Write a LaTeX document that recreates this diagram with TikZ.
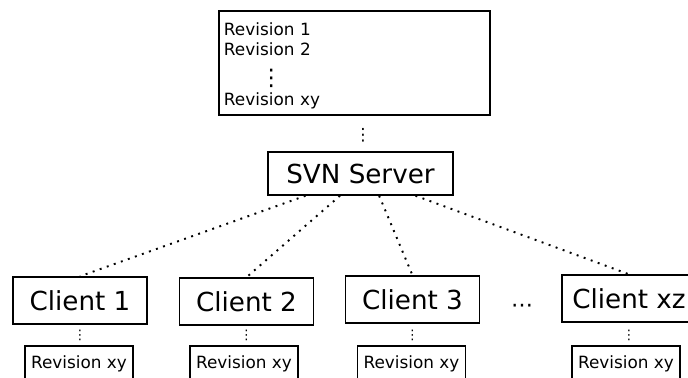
\documentclass[tikz,border=0pt]{standalone}
\usepackage{fontspec}
\setmainfont{DejaVu Sans}
\usetikzlibrary{positioning,calc}

\begin{document}
\begin{tikzpicture}[
    box/.style={draw, line width=0.8pt, minimum width=2.68cm, minimum height=0.94cm, inner sep=0pt, font=\fontsize{14.9}{18}\selectfont},
    rev/.style={draw, line width=0.8pt, minimum width=2.16cm, minimum height=0.72cm, inner sep=0pt, font=\fontsize{9.6}{11.4}\selectfont},
    vdots/.style={inner sep=0pt, font=\fontsize{7.5}{8}\selectfont},
    conn/.style={line width=1.1pt, dash pattern=on 1.1pt off 3.15pt}
]
\useasboundingbox (-7.21,-4.09) rectangle (6.55,3.47);
\clip (-7.21,-4.09) rectangle (6.55,3.47);
\node[draw, line width=0.8pt, text width=5.22cm, inner xsep=0.1cm, minimum height=2.08cm, align=left, font=\fontsize{9.6}{11.4}\selectfont] (repo) at (-0.12,2.21) {\rule{0pt}{10.7pt}Revision 1\\Revision 2\\[6.6pt]\hspace*{0.72cm}\raisebox{2.2pt}{\fontsize{13}{13}\selectfont ⋮}\\[-2.4pt]Revision xy};
\node[vdots, font=\fontsize{9.6}{11}\selectfont] (dots) at (0.05,0.77) {⋮};
\node[box, minimum width=3.7cm, minimum height=0.86cm] (svn) at (0,0) {SVN Server};

\node[box] (c1) at (-5.61,-2.54) {Client 1};
\node[box] (c2) at (-2.28,-2.56) {Client 2};
\node[box] (c3) at (1.04,-2.52) {Client 3};
\node[box] (cxz) at (5.37,-2.5) {Client xz};
\node[inner sep=0pt, font=\fontsize{12.5}{15}\selectfont] (more) at (3.23,-2.69) {⋯};

\node[vdots] (d1) at (-5.61,-3.23) {⋮};
\node[vdots] (d2) at (-2.28,-3.23) {⋮};
\node[vdots] (d3) at (1.04,-3.23) {⋮};
\node[vdots] (dxz) at (5.37,-3.23) {⋮};

\node[rev] (r1) at (-5.63,-3.81) {Revision xy};
\node[rev] (r2) at (-2.33,-3.81) {Revision xy};
\node[rev] (r3) at (1.02,-3.81) {Revision xy};
\node[rev] (rxz) at (5.31,-3.81) {Revision xy};

\draw[conn] ($(svn.south west)!.205!(svn.south east)$) -- (c1.north);
\draw[conn] ($(svn.south west)!.39!(svn.south east)$) -- (c2.north);
\draw[conn] ($(svn.south west)!.6!(svn.south east)$) -- (c3.north);
\draw[conn] ($(svn.south west)!.795!(svn.south east)$) -- (cxz.north);
\end{tikzpicture}
\end{document}
